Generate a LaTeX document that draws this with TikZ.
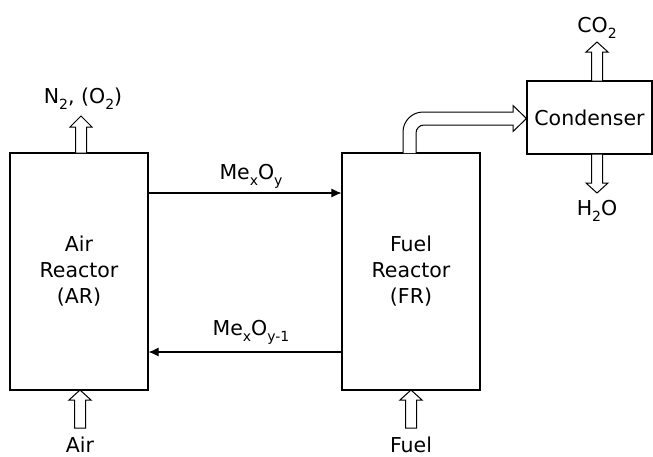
\documentclass[tikz,border=0pt]{standalone}
\usepackage{fontspec}
\setmainfont{DejaVu Sans}
\usetikzlibrary{arrows.meta}
\newcommand\sbs[1]{\raisebox{-0.32em}{\fontsize{14}{14}\selectfont #1}}
\newcommand\hollowv[4]{\draw[hollow] (#1-5.5,#3) -- (#1-5.5,#4) -- (#1-11,#4) -- (#1,#2) -- (#1+11,#4) -- (#1+5.5,#4) -- (#1+5.5,#3) -- cycle;}
\begin{document}
\begin{tikzpicture}[x=1pt,y=-1pt,
  every node/.style={font=\fontsize{20.5}{26}\selectfont},
  box/.style={draw, line width=1.1pt, inner sep=0pt, align=center},
  lbl/.style={anchor=base, inner sep=0pt},
  thin/.style={line width=1.1pt, -{Latex[length=10pt,width=9pt]}},
  hollow/.style={draw, line width=1pt, fill=white, line join=miter}]
\useasboundingbox (0,0) rectangle (653,456);
% boxes
\node[box, minimum width=138pt, minimum height=237pt] (AR) at (79,271.5) {Air\\Reactor\\(AR)};
\node[box, minimum width=138pt, minimum height=237pt] (FR) at (411,271.5) {Fuel\\Reactor\\(FR)};
\node[box, minimum width=125pt, minimum height=73pt] (CD) at (589.5,117.5) {Condenser};
% labels
\node[lbl] (mo) at (251,179) {Me\sbs{x}O\sbs{y}};
\node[lbl] (mo1) at (251,335) {Me\sbs{x}O\sbs{y-1}};
\node[lbl] (n2) at (83,103) {N\sbs{2}, (O\sbs{2})};
\node[lbl] (co2) at (597,32) {CO\sbs{2}};
\node[lbl] (h2o) at (597,215) {H\sbs{2}O};
\node[lbl] (air) at (80,452) {Air};
\node[lbl] (fuel) at (411,452) {Fuel};
% thin arrows
\coordinate (a1) at (0,193);
\coordinate (a2) at (0,352);
\draw[thin] (AR.east |- a1) -- (FR.west |- a1);
\draw[thin] (FR.west |- a2) -- (AR.east |- a2);
% hollow arrows
\hollowv{81}{116}{153}{127}
\hollowv{80}{390}{428}{400}
\hollowv{411}{390}{428}{400}
\hollowv{597}{42}{81}{52}
\hollowv{597}{193}{154}{183}
% bent hollow arrow from FR to condenser
\draw[hollow] (403,153) -- (403,132) .. controls (403,121) and (412,112) .. (423,112)
  -- (513,112) -- (513,105.5) -- (CD.west |- 0,118.5) -- (513,131.5) -- (513,125)
  -- (424,125) .. controls (419.6,125) and (416,128.6) .. (416,133) -- (416,153);
\end{tikzpicture}
\end{document}
